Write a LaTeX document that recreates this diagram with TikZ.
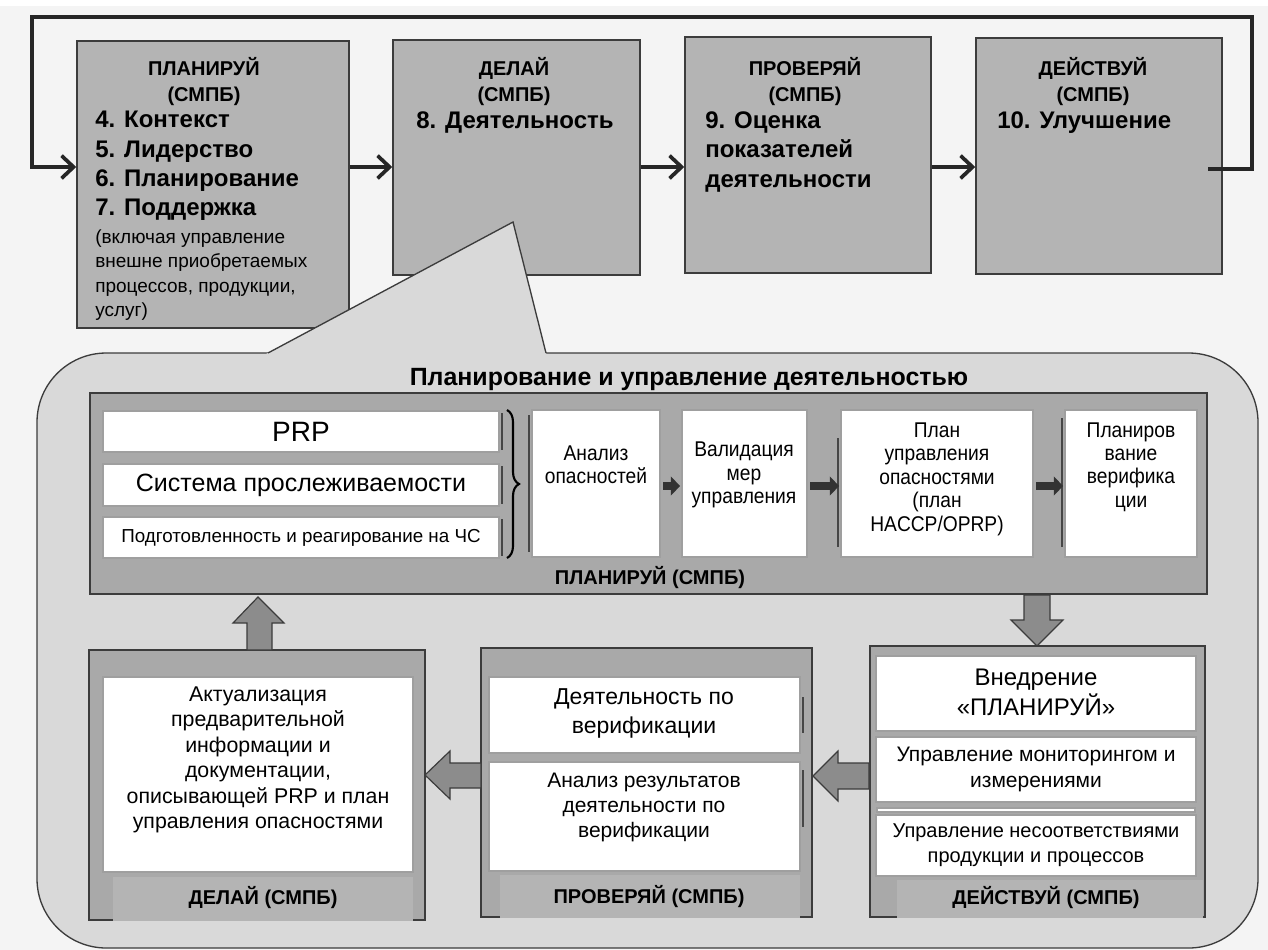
\documentclass[tikz,border=0pt]{standalone}
\usepackage{fontspec}
\setmainfont{Liberation Sans}
\newfontfamily\narrowfont[FakeStretch=0.9]{Liberation Sans}
\usetikzlibrary{arrows.meta,fit,decorations.pathreplacing}
\definecolor{bg}{HTML}{F4F4F4}
\definecolor{topfill}{HTML}{B4B4B4}
\definecolor{callfill}{HTML}{D9D9D9}
\definecolor{panelfill}{HTML}{A9A9A9}
\definecolor{bandfill}{HTML}{B4B4B4}
\definecolor{arrfill}{HTML}{8C8C8C}
\definecolor{edge}{HTML}{3C3C3C}
\newcommand{\fsz}[2]{\fontsize{#1}{#2}\selectfont}
\begin{document}
\begin{tikzpicture}[x=0.75pt,y=-0.75pt,
  topbox/.style={draw=edge, fill=topfill, line width=1.1pt, inner sep=0pt},
  panel/.style={draw=edge, fill=panelfill, line width=1pt, inner sep=0pt},
  wbox/.style={draw=gray!75, fill=white, line width=0.8pt, inner sep=0pt},
  band/.style={fill=bandfill, inner sep=0pt},
  shade/.style={draw=gray!55!black, line width=1pt},
  flow/.style={line width=3pt, draw=black!85, line join=miter,
    -{Straight Barb[length=9pt,width=17pt,line width=2.8pt]}},
  blk/.style={fill=arrfill, draw=edge, line width=0.9pt, line join=miter},
  sarr/.style={line width=5.5pt, draw=black!80, shorten <=2pt, shorten >=1pt,
    -{Triangle[length=7pt,width=14pt]}},
  hdr/.style={font=\bfseries\fsz{15}{19.5}, align=center, inner sep=0pt},
  item/.style={font=\bfseries\fsz{18}{22}, align=left, inner sep=0pt, anchor=west},
  small/.style={font=\fsz{14.25}{18.4}, align=left, inner sep=0pt, anchor=west},
  narrow/.style={font=\narrowfont\fsz{16}{17.6}, align=center, inner sep=0pt},
  lbl/.style={font=\bfseries\fsz{15}{18}, inner sep=0pt},
  txt/.style={align=center, inner sep=0pt}
]
\useasboundingbox (0,0) rectangle (1268,950);
\fill[bg] (0,6) rectangle (1268,950);

% ---------- top PDCA boxes ----------
\node[topbox, fit={(77,41)(349,328)}] (p1) {};
\node[topbox, fit={(393,40)(640,275)}] (p2) {};
\node[topbox, fit={(685,37)(931,273)}] (p3) {};
\node[topbox, fit={(976,38)(1222,274)}] (p4) {};

\node[hdr] (h1) at (204,82) {ПЛАНИРУЙ\\(СМПБ)};
\node[item] (i1) at (95,166) {4. Контекст\\5. Лидерство\\6. Планирование\\7. Поддержка};
\node[small] (s1) at (95,275) {(включая управление\\внешне приобретаемых\\процессов, продукции,\\услуг)};
\node[hdr] (h2) at (514,82) {ДЕЛАЙ\\(СМПБ)};
\node[item] (i2) at (416,123) {8. Деятельность};
\node[hdr] (h3) at (805,82) {ПРОВЕРЯЙ\\(СМПБ)};
\node[item] (i3) at (705,152) {9. Оценка\\показателей\\деятельности};
\node[hdr] (h4) at (1093,82) {ДЕЙСТВУЙ\\(СМПБ)};
\node[item] (i4) at (997,123) {10. Улучшение};

\coordinate (ay) at (0,167);
\draw[flow] (p1.east |- ay) -- (p2.west |- ay);
\draw[flow] (p2.east |- ay) -- (p3.west |- ay);
\draw[flow] (p3.east |- ay) -- (p4.west |- ay);
\coordinate (fb) at (1208,169);
\coordinate (lt) at (1252,17);
\coordinate (lb) at (32,167);
\draw[flow] (fb) -- (fb -| lt) -- (lt) -- (lt -| lb) -- (lb) -- (lb -| p1.west);

% ---------- callout ----------
\draw[draw=edge, line width=1pt, fill=callfill, rounded corners=52pt] (37,353) rectangle (1258,948);
\fill[callfill] (264.3,355) -- (513,222) -- (546.5,355) -- cycle;
\draw[draw=edge, line width=1pt] (268,353) -- (513,222) -- (546,353);

\node[font=\bfseries\fsz{18.7}{22}, inner sep=0pt] (title) at (689,380) {Планирование и управление деятельностью};

% ---------- PLAN panel ----------
\node[panel, fit={(90,393)(1207,594)}] (plan) {};
\node[wbox, fit={(103,411)(499,452)}] (prp) {};
\node[font=\fsz{21}{24}, inner sep=0pt] at (prp.center) {PRP};
\node[wbox, fit={(103,464)(499,506)}] (trace) {};
\node[font=\fsz{18.75}{22}, inner sep=0pt] at (trace.center) {Система прослеживаемости};
\node[wbox, fit={(103,517)(499,558)}] (emerg) {};
\node[font=\fsz{14.1}{16}, inner sep=0pt] at (emerg.center) {Подготовленность и реагирование на ЧС};
\draw[shade] (502,413) -- (502,450);
\draw[shade] (502,466) -- (502,504);
\draw[shade] (502,519) -- (502,556);
\draw[decorate, decoration={brace, amplitude=9pt}, line width=1.6pt] (507,410) -- (507,558);

\node[wbox, fit={(532,410)(660,557)}] (ha) {};
\node[wbox, fit={(682,410)(807,557)}] (val) {};
\node[wbox, fit={(841,410)(1033,557)}] (hcp) {};
\node[wbox, fit={(1065,410)(1197,557)}] (verp) {};
\draw[shade] (529,415) -- (529,552);
\draw[shade] (838,438) -- (838,547);
\draw[shade] (1062,418) -- (1062,547);
\node[narrow] at (596,465) {Анализ\\опасностей};
\node[narrow] at (744,475) {Валидация\\мер\\управления};
\node[narrow] at (937,479) {План\\управления\\опасностями\\(план\\HACCP/OPRP)};
\node[narrow] at (1131,467) {Планиров\\вание\\верифика\\ции};
\coordinate (sy) at (0,486);
\draw[sarr] (ha.east |- sy) -- (val.west |- sy);
\draw[sarr] (val.east |- sy) -- (hcp.west |- sy);
\draw[sarr] (hcp.east |- sy) -- (verp.west |- sy);
\node[lbl] (planlbl) at (650,578) {ПЛАНИРУЙ (СМПБ)};

% ---------- DO panel ----------
\node[panel, fit={(89,650)(425,920)}] (do) {};
\node[band, fit={(113,877)(413,921)}] (doband) {};
\node[wbox, fit={(103,677)(413,872)}] (upd) {};
\node[txt, font=\fsz{16}{19.1}] at (258,760) {Актуализация\\предварительной\\информации и\\документации,\\описывающей PRP и план\\управления опасностями};
\node[lbl] (dolbl) at (263,898) {ДЕЛАЙ (СМПБ)};

% ---------- CHECK panel ----------
\node[panel, fit={(481,648)(812,917)}] (chk) {};
\node[band, fit={(500,875)(800,918)}] (chkband) {};
\node[wbox, fit={(489,677)(800,753)}] (vact) {};
\node[wbox, fit={(489,762)(800,871)}] (vres) {};
\draw[shade] (803,697) -- (803,733);
\draw[shade] (803,770) -- (803,827);
\node[txt, font=\fsz{17.25}{21.75}] at (644,713) {Деятельность по\\верификации};
\node[txt, font=\fsz{15.75}{18.75}] at (644,807) {Анализ результатов\\деятельности по\\верификации};
\node[lbl] (chklbl) at (649,897) {ПРОВЕРЯЙ (СМПБ)};

% ---------- ACT panel ----------
\node[panel, fit={(870,646)(1205,917)}] (act) {};
\node[band, fit={(897,880)(1203,918)}] (actband) {};
\node[wbox, fit={(876,656)(1196,731)}] (impl) {};
\node[wbox, fit={(876,737)(1196,802)}] (mon) {};
\node[wbox, fit={(877,808)(1195,812)}] (strip) {};
\node[wbox, fit={(876,815)(1196,876)}] (nc) {};
\node[txt, font=\fsz{18}{22.5}] at (1036,692) {Внедрение\\«ПЛАНИРУЙ»};
\node[txt, font=\fsz{15.75}{19.5}] at (1036,769) {Управление мониторингом и\\измерениями};
\node[txt, font=\fsz{15}{18.75}] at (1036,845) {Управление несоответствиями\\продукции и процессов};
\node[lbl] (actlbl) at (1046,898) {ДЕЙСТВУЙ (СМПБ)};

% ---------- block arrows between panels ----------
\draw[blk] (1024,595) -- (1024,620) -- (1011,620) -- (1037,646) -- (1063,620) -- (1050,620) -- (1050,595) -- cycle;
\draw[blk] (869,763) -- (838,763) -- (838,751) -- (813,776) -- (838,801) -- (838,789) -- (869,789) -- cycle;
\draw[blk] (481,763) -- (450,763) -- (450,751) -- (425,775) -- (450,799) -- (450,788) -- (481,788) -- cycle;
\draw[blk] (247,650) -- (247,623) -- (233,623) -- (258,597) -- (284,623) -- (272,623) -- (272,650) -- cycle;
\end{tikzpicture}
\end{document}
